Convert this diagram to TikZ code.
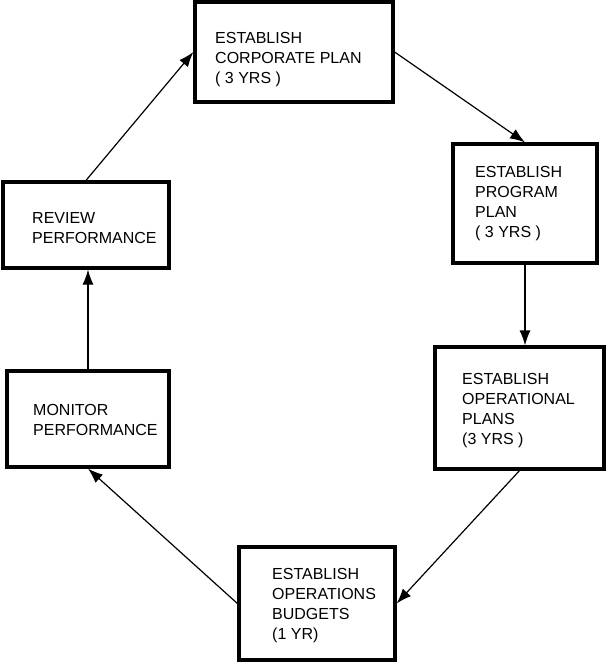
\documentclass[tikz,border=0pt]{standalone}
\usepackage{fontspec}
\setmainfont{Liberation Sans}
\usetikzlibrary{arrows.meta}
\begin{document}
\begin{tikzpicture}[x=1pt,y=-1pt,
  box/.style={draw,line width=3.2pt,rectangle,inner sep=0pt},
  txt/.style={anchor=base west,align=left,inner sep=0pt,font=\fontsize{16}{20}\selectfont},
  conn/.style={line width=1.2pt,-{Latex[length=15pt,width=11pt]}}]
\useasboundingbox (0,0) rectangle (607,663);
\node[box,minimum width=198pt,minimum height=100pt] (b1) at (294,52) {};
\node[box,minimum width=144pt,minimum height=119pt] (b2) at (525,203.5) {};
\node[box,minimum width=169pt,minimum height=122pt] (b3) at (519.5,408) {};
\node[box,minimum width=156pt,minimum height=113pt] (b4) at (317,603.5) {};
\node[box,minimum width=162pt,minimum height=96pt] (b5) at (88,419) {};
\node[box,minimum width=166pt,minimum height=86pt] (b6) at (86,225) {};
\node[txt] (t1) at (215,84) {ESTABLISH\\CORPORATE PLAN\\( 3 YRS )};
\node[txt] (t2) at (475,237) {ESTABLISH\\PROGRAM\\PLAN\\( 3 YRS )};
\node[txt] (t3) at (462,444) {ESTABLISH\\OPERATIONAL\\PLANS\\(3 YRS )};
\node[txt] (t4) at (272,639) {ESTABLISH\\OPERATIONS\\BUDGETS\\(1 YR)};
\node[txt] (t5) at (33,435) {MONITOR\\PERFORMANCE};
\node[txt] (t6) at (32,243) {REVIEW\\PERFORMANCE};
\draw[conn] (b6.north) -- (b1.west);
\draw[conn] (b1.east) -- (b2.north);
\draw[conn] (b2.south) -- (b2.south |- b3.north);
\draw[conn] (b3.south) -- (b4.east);
\draw[conn] (b4.west) -- (b5.south);
\draw[conn] (b5.north) -- (b5.north |- b6.south);
\end{tikzpicture}
\end{document}
